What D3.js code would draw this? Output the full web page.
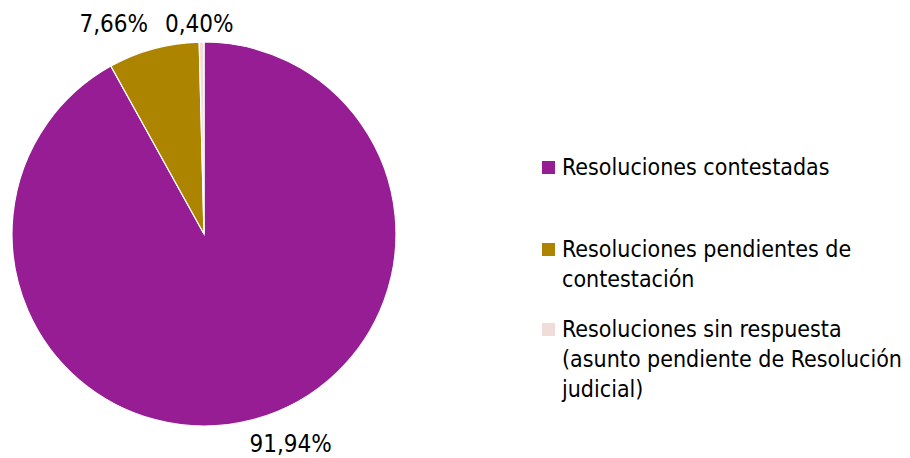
<!DOCTYPE html>
<html><head><meta charset="utf-8">
<script src="https://cdn.jsdelivr.net/npm/d3@7"></script>
<style>body{margin:0;background:#fff}</style>
</head><body>
<svg id="c" width="910" height="458"></svg>
<script>
const categories = ["Resoluciones contestadas","Resoluciones pendientes de contestación","Resoluciones sin respuesta (asunto pendiente de Resolución judicial)"];
const values = [91.94, 7.66, 0.40];
const labels = ["91,94%","7,66%","0,40%"];
const legendLines = [["Resoluciones contestadas"],["Resoluciones pendientes de","contestación"],["Resoluciones sin respuesta","(asunto pendiente de Resolución","judicial)"]];
const colors = ["#961D93","#AD8400","#F2DCDB"];

const svg = d3.select("#c");
const font = "'DejaVu Sans Condensed', 'DejaVu Sans', sans-serif";
const cx = 204, cy = 234, R = 192;
const pie = d3.pie().sort(null).value(d=>d);
const arcs = pie(values);
const arc = d3.arc().innerRadius(0).outerRadius(R);
const g = svg.append("g").attr("transform",`translate(${cx},${cy})`);
g.selectAll("path").data(arcs).join("path")
  .attr("d",arc).attr("fill",(d,i)=>colors[i]).attr("stroke","#fff").attr("stroke-width",1.2);

const labelArc = d3.arc().innerRadius(R+22).outerRadius(R+22);
const nudges = [[33,4],[-34,-3],[-2,4.5]];
g.selectAll("text.lab").data(arcs).join("text")
  .attr("class","lab")
  .attr("x",(d,i)=>labelArc.centroid(d)[0]+nudges[i][0])
  .attr("y",(d,i)=>labelArc.centroid(d)[1]+nudges[i][1])
  .attr("text-anchor","middle").attr("dominant-baseline","middle")
  .attr("font-family",font).attr("font-size",24).attr("fill","#000")
  .text((d,i)=>labels[i]);

const lg = svg.append("g");
const startY = [175, 257, 337];
legendLines.forEach((lines,i)=>{
  lg.append("rect").attr("x",542).attr("y",startY[i]-14).attr("width",13).attr("height",13).attr("fill",colors[i]);
  const t = lg.append("text").attr("x",562).attr("y",startY[i]).attr("font-family",font).attr("font-size",23).attr("fill","#000");
  lines.forEach((l,j)=>t.append("tspan").attr("x",562).attr("dy",j?30:0).text(l));
});
</script>
</body></html>
